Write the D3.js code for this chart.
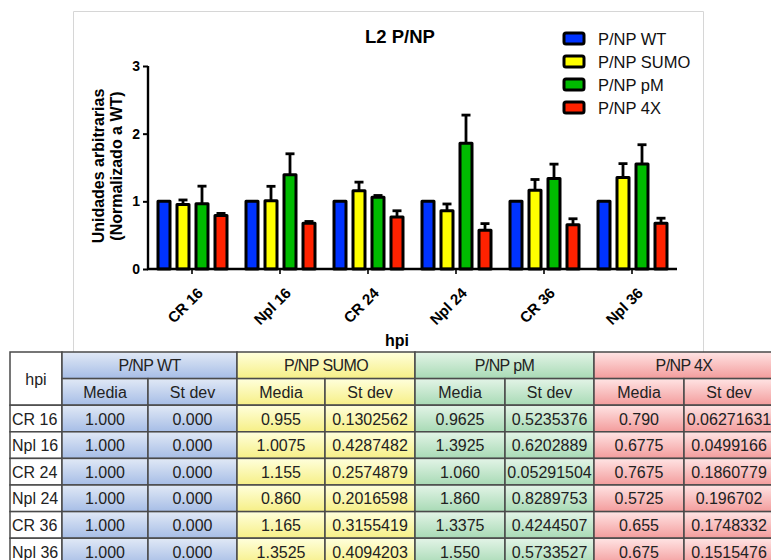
<!DOCTYPE html>
<html>
<head>
<meta charset="utf-8">
<script src="https://cdn.jsdelivr.net/npm/d3@7"></script>
<style>
  html, body { margin: 0; padding: 0; background: #fff; }
  svg { display: block; font-family: "Liberation Sans", Arial, sans-serif; }
</style>
</head>
<body>
<svg id="chart" width="771" height="560"></svg>
<script>
// Time points (hpi) and construct series
const categories = ["CR 16", "Npl 16", "CR 24", "Npl 24", "CR 36", "Npl 36"];
const seriesNames = ["P/NP WT", "P/NP SUMO", "P/NP pM", "P/NP 4X"];
const seriesColors = ["#0033ff", "#ffff00", "#00bb00", "#ff2200"];

// Mean and standard deviation per construct, as printed in the table
const wtMedia   = ["1.000", "1.000", "1.000", "1.000", "1.000", "1.000"];
const wtStdev   = ["0.000", "0.000", "0.000", "0.000", "0.000", "0.000"];
const sumoMedia = ["0.955", "1.0075", "1.155", "0.860", "1.165", "1.3525"];
const sumoStdev = ["0.1302562", "0.4287482", "0.2574879", "0.2016598", "0.3155419", "0.4094203"];
const pmMedia   = ["0.9625", "1.3925", "1.060", "1.860", "1.3375", "1.550"];
const pmStdev   = ["0.5235376", "0.6202889", "0.05291504", "0.8289753", "0.4244507", "0.5733527"];
const x4Media   = ["0.790", "0.6775", "0.7675", "0.5725", "0.655", "0.675"];
const x4Stdev   = ["0.06271631", "0.0499166", "0.1860779", "0.196702", "0.1748332", "0.1515476"];

// Replicates per point; error bars show the standard error of the mean
const nReplicates = 4;
const yTicks = [0, 1, 2, 3];

const mediaBySeries = [wtMedia, sumoMedia, pmMedia, x4Media];
const stdevBySeries = [wtStdev, sumoStdev, pmStdev, x4Stdev];

const svg = d3.select("#chart");

// ---- chart frame ----
const frame = svg.append("g").attr("stroke", "#d6d6d6").attr("fill", "none").attr("stroke-width", 1);
frame.append("path").attr("d", "M73.5,352 L73.5,11.5 L703.5,11.5 L703.5,352");

// ---- scales ----
const x0 = d3.scaleBand().domain(categories).range([148, 676]).padding(0);
const x1 = d3.scaleBand().domain(seriesNames).range([8.5, 80.5]).paddingInner(4 / 19).paddingOuter(0);
const y = d3.scaleLinear().domain([0, 3]).range([269, 66]);

const rows = categories.map((c, i) => ({
  cat: c,
  vals: seriesNames.map((s, k) => {
    const m = +mediaBySeries[k][i];
    const sd = +stdevBySeries[k][i];
    return { series: s, color: seriesColors[k], mean: m, sem: sd / Math.sqrt(nReplicates) };
  })
}));

// ---- bars ----
const bw = 3;
const groups = svg.append("g").selectAll("g").data(rows).join("g")
  .attr("transform", d => `translate(${x0(d.cat)},0)`);

// error bars (upper only) drawn behind the bars
groups.selectAll("g.err").data(d => d.vals.filter(v => v.sem > 0)).join("g")
  .attr("class", "err")
  .each(function (v) {
    const g = d3.select(this);
    const cx = x1(v.series) + x1.bandwidth() / 2;
    const top = y(v.mean + v.sem);
    g.append("line").attr("x1", cx).attr("x2", cx).attr("y1", y(v.mean)).attr("y2", top)
      .attr("stroke", "#000").attr("stroke-width", 2.8);
    g.append("line").attr("x1", cx - 4.5).attr("x2", cx + 4.5).attr("y1", top).attr("y2", top)
      .attr("stroke", "#000").attr("stroke-width", 2.8);
  });

groups.selectAll("rect").data(d => d.vals).join("rect")
  .attr("x", v => x1(v.series) + bw / 2)
  .attr("width", x1.bandwidth() - bw)
  .attr("y", v => y(v.mean))
  .attr("height", v => y(0) - y(v.mean))
  .attr("fill", v => v.color)
  .attr("stroke", "#000")
  .attr("stroke-width", bw)
  .attr("stroke-linejoin", "round");

// ---- axes ----
const yAxis = svg.append("g").attr("transform", "translate(148,0)")
  .call(d3.axisLeft(y).tickValues(yTicks).tickFormat(d3.format("d")).tickSize(5).tickPadding(3));
yAxis.select(".domain").attr("d", `M0,${y(3)}V${y(0)}`).attr("stroke-width", 2.4);
yAxis.selectAll(".tick line").attr("stroke-width", 2);
yAxis.selectAll(".tick text").attr("font-size", 14).attr("font-weight", "bold")
  .attr("fill", "#000").attr("font-family", "Liberation Sans, Arial, sans-serif");

const xAxis = svg.append("g").attr("transform", `translate(0,${y(0)})`)
  .call(d3.axisBottom(x0).tickSize(5).tickFormat(""));
xAxis.select(".domain").attr("d", "M147,0H677").attr("stroke-width", 2.4);
xAxis.selectAll(".tick line").attr("stroke-width", 1.6);

svg.append("g").selectAll("text").data(categories).join("text")
  .attr("transform", d => `translate(${x0(d) + x0.bandwidth() / 2 + 12},${y(0) + 25}) rotate(-45)`)
  .attr("text-anchor", "end")
  .attr("font-size", 15).attr("font-weight", "bold").attr("fill", "#000")
  .text(d => d);

// axis titles
svg.append("text").attr("x", 397).attr("y", 346).attr("text-anchor", "middle")
  .attr("font-size", 16).attr("font-weight", "bold").text("hpi");

const yLab = svg.append("text").attr("transform", "translate(104,166) rotate(-90)")
  .attr("text-anchor", "middle").attr("font-size", 16).attr("font-weight", "bold");
yLab.append("tspan").attr("x", 0).attr("dy", 0).text("Unidades arbitrarias");
yLab.append("tspan").attr("x", 0).attr("dy", 18).text("(Normalizado a WT)");

// title
svg.append("text").attr("x", 400).attr("y", 43).attr("text-anchor", "middle")
  .attr("font-size", 18.5).attr("font-weight", "bold").text("L2 P/NP");

// ---- legend ----
const legend = svg.append("g").selectAll("g").data(seriesNames).join("g")
  .attr("transform", (d, i) => `translate(564,${33 + i * 23})`);
legend.append("rect").attr("width", 20).attr("height", 11).attr("rx", 2)
  .attr("fill", (d, i) => seriesColors[i]).attr("stroke", "#000").attr("stroke-width", 3);
legend.append("text").attr("x", 34).attr("y", 12).attr("font-size", 16.5).attr("fill", "#111").text(d => d);

// ---- data table ----
const colX = [10, 62, 148, 237, 325, 415, 505, 594, 684, 774];
const tableTop = 352;
const rowH = 26.6;
const tintTop = ["#e1e9f6", "#ffffdc", "#e3f4e7", "#ffe4e4"];
const tintBottom = ["#a6bde6", "#f6ef86", "#a8dab5", "#f39c9c"];

const defs = svg.append("defs");
seriesNames.forEach((s, k) => {
  const g = defs.append("linearGradient").attr("id", "tint" + k)
    .attr("x1", 0).attr("y1", 0).attr("x2", 0).attr("y2", 1);
  g.append("stop").attr("offset", "0%").attr("stop-color", tintTop[k]);
  g.append("stop").attr("offset", "100%").attr("stop-color", tintBottom[k]);
});

const table = svg.append("g").attr("font-size", 16).attr("fill", "#222");
const cells = [];
// header: hpi merged cell
cells.push({ x0: colX[0], x1: colX[1], r0: 0, r1: 2, fill: "#fff", text: "hpi", anchor: "middle" });
seriesNames.forEach((s, k) => {
  const a = colX[1 + 2 * k], m = colX[2 + 2 * k], b = colX[3 + 2 * k];
  cells.push({ x0: a, x1: b, r0: 0, r1: 1, fill: `url(#tint${k})`, text: s, anchor: "middle", ls: -0.6 });
  cells.push({ x0: a, x1: m, r0: 1, r1: 2, fill: `url(#tint${k})`, text: "Media", anchor: "middle" });
  cells.push({ x0: m, x1: b, r0: 1, r1: 2, fill: `url(#tint${k})`, text: "St dev", anchor: "middle" });
});
categories.forEach((c, i) => {
  const r = 2 + i;
  cells.push({ x0: colX[0], x1: colX[1], r0: r, r1: r + 1, fill: "#fff", text: c, anchor: "start" });
  seriesNames.forEach((s, k) => {
    cells.push({ x0: colX[1 + 2 * k], x1: colX[2 + 2 * k], r0: r, r1: r + 1, fill: `url(#tint${k})`, text: mediaBySeries[k][i], anchor: "middle" });
    cells.push({ x0: colX[2 + 2 * k], x1: colX[3 + 2 * k], r0: r, r1: r + 1, fill: `url(#tint${k})`, text: stdevBySeries[k][i], anchor: "middle" });
  });
});

const cellG = table.selectAll("g").data(cells).join("g");
cellG.append("rect")
  .attr("x", d => d.x0).attr("y", d => tableTop + d.r0 * rowH)
  .attr("width", d => d.x1 - d.x0).attr("height", d => (d.r1 - d.r0) * rowH)
  .attr("fill", d => d.fill).attr("stroke", "#4a4a4a").attr("stroke-width", 1.5);
cellG.append("text")
  .attr("x", d => d.anchor === "start" ? d.x0 + 2 : (d.x0 + d.x1) / 2)
  .attr("y", d => tableTop + (d.r0 + d.r1) / 2 * rowH + 6)
  .attr("text-anchor", d => d.anchor)
  .attr("letter-spacing", d => d.ls || 0)
  .text(d => d.text);
</script>
</body>
</html>
